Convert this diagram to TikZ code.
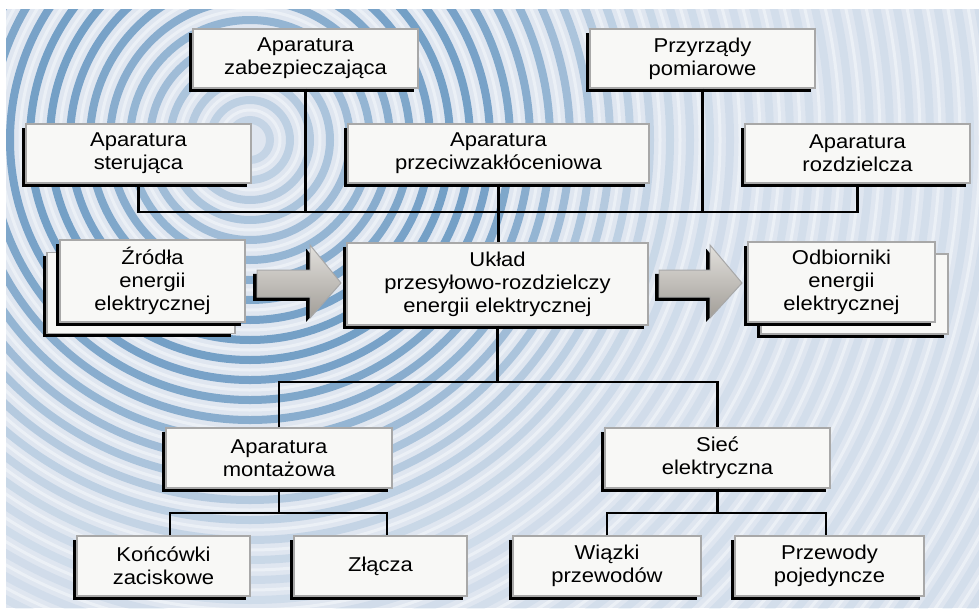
\documentclass[tikz,border=0pt]{standalone}
\usepackage{fontspec}
\setmainfont{Liberation Sans}[FakeStretch=1.1]
\usetikzlibrary{calc}
\definecolor{boxfill}{HTML}{F8F8F6}
\definecolor{boxedge}{HTML}{A8A8A8}
\definecolor{bgblue}{HTML}{DFE6F0}
\definecolor{ripple}{HTML}{3F7DB2}
\definecolor{arrtop}{HTML}{E2E0DC}
\definecolor{arrbot}{HTML}{A29E98}
\begin{document}
\begin{tikzpicture}[x=1pt,y=-1pt,
  blackshadow/.style={preaction={fill=black, transform canvas={shift={(-3.8pt,-3.8pt)}}}},
  box/.style={blackshadow, draw=boxedge, line width=1.2pt, fill=boxfill, minimum height=59pt,
    inner sep=0pt, align=center, font=\fontsize{20}{23}\selectfont},
  conn/.style={line width=2.2pt, black},
  flow/.style={blackshadow, draw=boxedge, line width=1pt, top color=arrtop, bottom color=arrbot}
]
\useasboundingbox (0,0) rectangle (979,608);
\fill[white] (0,0) rectangle (979,608);
% background with ripples
\begin{scope}
  \clip (6,9) rectangle (979,608);
  \fill[bgblue] (6,9) rectangle (979,608);
  \foreach \r in {20,40,...,900}{
    \pgfmathsetmacro\op{0.07+0.6*exp(-((\r-210)/140)*((\r-210)/140))}
    \draw[ripple, line width=8pt, opacity=\op] (250,140) circle[radius=\r];
    \draw[white, line width=3pt, opacity=0.4] (250,140) circle[radius=\r+10];
  }
\end{scope}

% nodes
\node[box, minimum width=225pt] (zab) at (305.5,58.5) {Aparatura\\zabezpieczająca};
\node[box, minimum width=225pt] (prz) at (702.5,58.5) {Przyrządy\\pomiarowe};
\node[box, minimum width=225pt] (ster) at (138.5,153.5) {Aparatura\\sterująca};
\node[box, minimum width=301pt] (przeciw) at (498.5,153.5) {Aparatura\\przeciwzakłóceniowa};
\node[box, minimum width=225pt] (rozdz) at (857.5,153.5) {Aparatura\\rozdzielcza};

\node[box, minimum width=301pt, minimum height=82pt] (central) at (497.5,284) {Układ\\przesyłowo-rozdzielczy\\energii elektrycznej};

\node[box, minimum width=188pt, minimum height=81pt] (zrodlaB) at (141,293) {};
\node[box, minimum width=185pt, minimum height=82pt] (zrodla) at (152.5,281) {Źródła\\energii\\elektrycznej};

\node[box, minimum width=187pt, minimum height=80pt] (odbB) at (854.5,294) {};
\node[box, minimum width=187pt, minimum height=80pt] (odb) at (841.5,282) {Odbiorniki\\energii\\elektrycznej};

\node[box, minimum width=226pt, minimum height=60pt] (mont) at (279,458) {Aparatura\\montażowa};
\node[box, minimum width=225pt, minimum height=60pt] (siec) at (717.5,458) {Sieć\\elektryczna};

\node[box, minimum width=173pt, minimum height=60pt] (konc) at (163.5,566) {Końcówki\\zaciskowe};
\node[box, minimum width=173pt, minimum height=60pt] (zlacza) at (380.5,566) {Złącza};
\node[box, minimum width=188pt, minimum height=60pt] (wiazki) at (607,566) {Wiązki\\przewodów};
\node[box, minimum width=189pt, minimum height=60pt] (przew) at (829.5,566) {Przewody\\pojedyncze};

% connectors
\coordinate (busT) at (0,212);
\coordinate (busM) at (0,382);
\coordinate (busL) at (0,513);
\coordinate (kc) at ([xshift=6.5pt]konc.north);
\coordinate (zc) at ([xshift=6.5pt]zlacza.north);
\coordinate (pc) at ([xshift=-3.5pt]przew.north);

\draw[conn] (ster.south) -- (ster.south |- busT) -- (rozdz.south |- busT) -- (rozdz.south);
\draw[conn] (zab.south) -- (zab.south |- busT);
\draw[conn] (prz.south) -- (prz.south |- busT);
\draw[conn] (przeciw.south) -- (przeciw.south |- central.north);
\draw[conn] (central.south) -- (central.south |- busM);
\draw[conn] (mont.north) -- (mont.north |- busM) -- (siec.north |- busM) -- (siec.north);
\draw[conn] (mont.south) -- (mont.south |- busL);
\draw[conn] (kc) -- (kc |- busL) -- (zc |- busL) -- (zc);
\draw[conn] (siec.south) -- (siec.south |- busL);
\draw[conn] (wiazki.north) -- (wiazki.north |- busL) -- (pc |- busL) -- (pc);

% big flow arrows
\path[flow] (257,270) -- (310,270) -- (310,245) -- (341,283) -- (310,318) -- (310,297) -- (257,297) -- cycle;
\path[flow] (659,270) -- (710,270) -- (710,245) -- (742,283) -- (710,318) -- (710,297) -- (659,297) -- cycle;
\end{tikzpicture}
\end{document}
